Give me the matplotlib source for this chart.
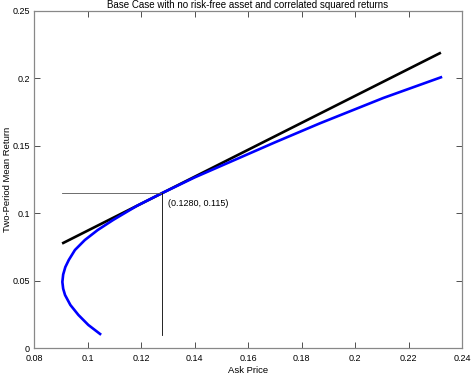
import matplotlib
matplotlib.use("Agg")
import matplotlib.pyplot as plt

# Frontier (blue)
front_x = [0.1047, 0.1003, 0.0966, 0.0936, 0.0916, 0.0909, 0.0906, 0.0909, 0.0917,
           0.0930, 0.0953, 0.0990, 0.1038, 0.1096, 0.1185, 0.1280, 0.1400, 0.1550,
           0.1700, 0.1869, 0.2106, 0.2321]
front_y = [0.0104, 0.0171, 0.0245, 0.0319, 0.0393, 0.0440, 0.0490, 0.0545, 0.0600,
           0.0653, 0.0727, 0.0801, 0.0875, 0.0950, 0.1055, 0.1150, 0.1265, 0.1395,
           0.1525, 0.1667, 0.1855, 0.2008]

# Tangent line (black)
tan_x = [0.0905, 0.2321]
tan_y = [0.0775, 0.2191]

# Tangency point
pt_x = 0.1280
pt_y = 0.115
guide_x0 = 0.0905
guide_y0 = 0.010
label = "(0.1280, 0.115)"

plt.rcParams['font.family'] = ['Liberation Sans', 'DejaVu Sans']

fig = plt.figure(figsize=(4.71, 3.75), dpi=100)
ax = fig.add_axes([0.0722, 0.072, 0.9088, 0.8987])

ax.plot(tan_x, tan_y, color='black', lw=1.9, solid_capstyle='butt')
ax.plot(front_x, front_y, color='#0000ff', lw=1.9, solid_joinstyle='round')
ax.plot([guide_x0, pt_x], [pt_y, pt_y], color='#555555', lw=0.6)
ax.plot([pt_x, pt_x], [guide_y0, pt_y], color='black', lw=0.6)
ax.text(pt_x + 0.0021, pt_y - 0.0075, label, fontsize=6.5, va='center', ha='left')

ax.set_xlim(0.08, 0.24)
ax.set_ylim(0, 0.25)
ax.set_xticks([0.08, 0.1, 0.12, 0.14, 0.16, 0.18, 0.2, 0.22, 0.24])
ax.set_xticklabels(['0.08', '0.1', '0.12', '0.14', '0.16', '0.18', '0.2', '0.22', '0.24'])
ax.set_yticks([0, 0.05, 0.1, 0.15, 0.2, 0.25])
ax.set_yticklabels(['0', '0.05', '0.1', '0.15', '0.2', '0.25'])
ax.tick_params(direction='in', top=True, right=True, labelsize=6.5, length=4,
               width=0.6, color='#333333')
ax.tick_params(axis='x', pad=4)
ax.tick_params(axis='y', pad=3)
for s in ax.spines.values():
    s.set_color('#888888')
    s.set_linewidth(0.9)

ax.set_xlabel('Ask Price', fontsize=6.8)
ax.xaxis.set_label_coords(0.5, -0.052)
ax.xaxis.label.set_va('top')
ax.set_ylabel('Two-Period Mean Return', fontsize=6.8)
ax.yaxis.set_label_coords(-0.052, 0.5)
ax.set_title('Base Case with no risk-free asset and correlated squared returns', fontsize=7, pad=2)

fig.savefig('out.png', dpi=100)
